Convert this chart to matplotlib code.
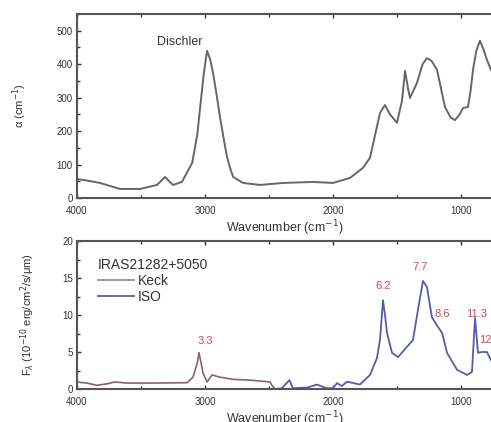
import matplotlib.pyplot as plt
from matplotlib.ticker import MultipleLocator

plt.rcParams['font.family'] = ['Liberation Sans', 'DejaVu Sans']

# top panel: Dischler absorption
alpha_x = [4000, 3920, 3820, 3664, 3508, 3375, 3340, 3312, 3280, 3250, 3180, 3100,
           3060, 3040, 3010, 2984, 2960, 2937, 2910, 2883, 2855, 2828, 2800, 2780,
           2703, 2570, 2390, 2156, 2000, 1867, 1766, 1711, 1670, 1633, 1594, 1555,
           1500, 1461, 1437, 1415, 1398, 1344, 1300, 1266, 1230, 1187, 1125, 1080,
           1047, 1010, 984, 945, 925, 906, 880, 852, 825, 797, 766, 700]
alpha_y = [57, 52, 45, 27, 27, 39, 52, 63, 50, 39, 48, 105,
           190, 263, 370, 440, 415, 374, 310, 243, 180, 123, 85, 63,
           45, 39, 45, 48, 45, 60, 90, 120, 190, 254, 278, 250,
           225, 290, 380, 330, 299, 344, 400, 418, 410, 383, 272, 240,
           233, 250, 269, 272, 320, 383, 440, 470, 445, 413, 383, 370]

# bottom panel: IRAS21282+5050
keck_x = [4000, 3922, 3844, 3766, 3703, 3610, 3430, 3140, 3094, 3060, 3047, 3030,
          3016, 2984, 2945, 2883, 2781, 2648, 2492, 2469, 2450]
keck_y = [0.95, 0.8, 0.5, 0.7, 0.95, 0.8, 0.8, 0.85, 1.6, 3.5, 4.9, 3.5,
          2.2, 0.95, 1.9, 1.6, 1.3, 1.2, 0.95, 0.3, 0.0]
iso_x = [2450, 2400, 2340, 2313, 2200, 2125, 2050, 2000, 1969, 1930, 1890, 1790,
         1711, 1656, 1633, 1609, 1590, 1578, 1539, 1492, 1422, 1375, 1336, 1297,
         1266, 1227, 1180, 1148, 1109, 1031, 953, 914, 890, 867, 836, 797, 766, 720]
iso_y = [0.0, 0.1, 1.2, 0.1, 0.2, 0.6, 0.1, 0.1, 0.8, 0.4, 1.0, 0.6,
         1.9, 4.2, 6.6, 12.0, 9.5, 7.6, 4.9, 4.3, 5.7, 6.6, 10.7, 14.6,
         13.8, 9.7, 8.4, 7.6, 4.9, 2.6, 1.9, 2.3, 9.6, 4.9, 5.0, 5.0, 3.9, 3.0]

band_labels = ['3.3', '6.2', '7.7', '8.6', '11.3', '12.7']
band_x = [3000, 1610, 1320, 1150, 880, 775]
band_y = [5.8, 13.3, 15.8, 9.4, 9.4, 6.0]

W, H = 491, 422
fig = plt.figure(figsize=(W / 100, H / 100), dpi=100)
ax1 = fig.add_axes([77 / W, 1 - 198 / H, 423 / W, 184 / H])
ax2 = fig.add_axes([77 / W, 1 - 389 / H, 423 / W, 148 / H])

spine_col = '#555555'
for ax in (ax1, ax2):
    ax.set_xlim(4000, 695)
    ax.xaxis.set_major_locator(MultipleLocator(1000))
    ax.xaxis.set_minor_locator(MultipleLocator(500))
    ax.tick_params(which='both', direction='in', top=True, right=False,
                   labelsize=7, colors='#333333', pad=3)
    ax.tick_params(axis='x', which='major', pad=6)
    ax.tick_params(which='major', length=3, width=1)
    ax.tick_params(which='minor', length=2, width=1)
    for s in ('left', 'bottom', 'top'):
        ax.spines[s].set_linewidth(1.5)
        ax.spines[s].set_color(spine_col)
    ax.spines['right'].set_visible(False)
    ax.set_xlabel('Wavenumber (cm$^{-1}$)', fontsize=9, color='#333333')

ax1.xaxis.set_label_coords(208 / 423, -0.11)
ax2.xaxis.set_label_coords(208 / 423, -0.14)

ax1.plot(alpha_x, alpha_y, color='#666666', lw=1.4)
ax1.set_ylim(0, 550)
ax1.yaxis.set_major_locator(MultipleLocator(100))
ax1.yaxis.set_minor_locator(MultipleLocator(50))
ax1.set_ylabel('α (cm$^{-1}$)', fontsize=8, color='#333333', labelpad=20)
ax1.text(3195, 467, 'Dischler', fontsize=9, color='#333333', ha='center', va='center')

ax2.plot(keck_x, keck_y, color='#8c6070', lw=1.2, label='Keck')
ax2.plot(iso_x, iso_y, color='#5a5aa8', lw=1.3, label='ISO')
ax2.set_ylim(0, 20)
ax2.yaxis.set_major_locator(MultipleLocator(5))
ax2.yaxis.set_minor_locator(MultipleLocator(2.5))
ax2.set_ylabel('F$_λ$ (10$^{-10}$ erg/cm$^2$/s/μm)', fontsize=8, color='#333333',
               labelpad=18)
for lab, x, y in zip(band_labels, band_x, band_y):
    ax2.text(x, y, lab, fontsize=8, color='#e04050', ha='center', va='bottom')

leg = ax2.legend(title='IRAS21282+5050', loc='upper left', frameon=False,
                 fontsize=10, title_fontsize=10, alignment='left',
                 handlelength=2.6, handletextpad=0.3, labelspacing=0.15,
                 borderaxespad=0.5, bbox_to_anchor=(0.02, 0.97))
for t in leg.get_texts():
    t.set_color('#333333')
leg.get_title().set_color('#333333')
leg.get_lines()[0].set_color('#888888')

fig.savefig('out.png', dpi=100)
